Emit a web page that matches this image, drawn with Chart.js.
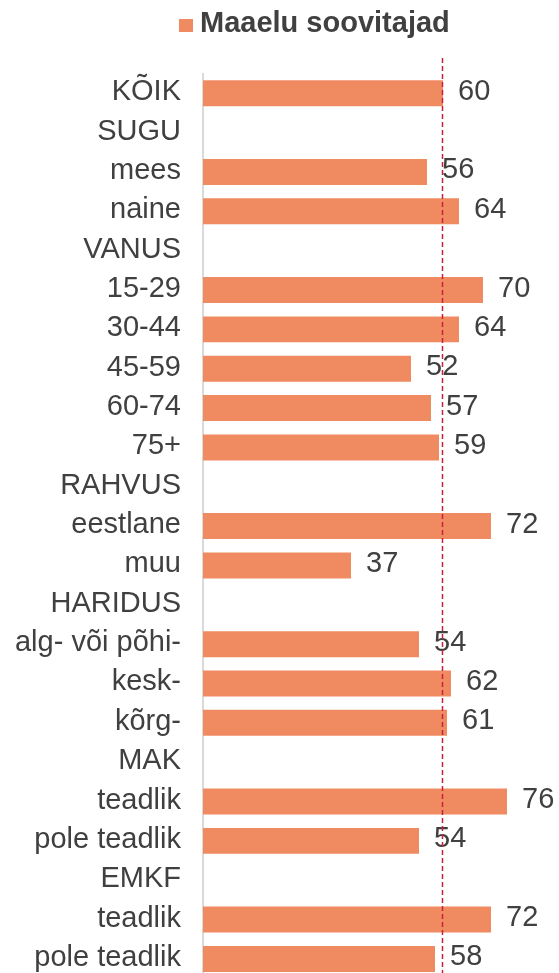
<!DOCTYPE html>
<html>
<head>
<meta charset="utf-8">
<script src="https://cdn.jsdelivr.net/npm/chart.js@4/dist/chart.umd.min.js"></script>
<style>
  html, body { margin: 0; padding: 0; background: #ffffff; overflow: hidden; }
  #wrap { width: 559px; height: 973px; overflow: hidden; }
</style>
</head>
<body>
<div id="wrap"><canvas id="c" width="559" height="1018"></canvas></div>
<script>
const categories = ["KÕIK", "SUGU", "mees", "naine", "VANUS", "15-29", "30-44", "45-59", "60-74", "75+",
  "RAHVUS", "eestlane", "muu", "HARIDUS", "alg- või põhi-", "kesk-", "kõrg-", "MAK", "teadlik",
  "pole teadlik", "EMKF", "teadlik", "pole teadlik"];
const seriesName = "Maaelu soovitajad";
const values = [60, null, 56, 64, null, 70, 64, 52, 57, 59, null, 72, 37, null, 54, 62, 61, null, 76, 54, null, 72, 58];
const referenceValue = 60;
const xMin = 0, xMax = 85;

const FONT = "'Liberation Sans', Arial, Helvetica, sans-serif";
const TEXT = "#404040";
const BAR = "#f08b61";

const valueLabels = {
  id: "valueLabels",
  afterDatasetsDraw(chart) {
    const ctx = chart.ctx;
    const meta = chart.getDatasetMeta(0);
    ctx.save();
    ctx.font = "29px " + FONT;
    ctx.fillStyle = TEXT;
    ctx.textAlign = "left";
    ctx.textBaseline = "middle";
    meta.data.forEach((el, i) => {
      const v = chart.data.datasets[0].data[i];
      if (v === null || v === undefined) return;
      ctx.fillText(String(v), el.x + 15, el.y - 1.5);
    });
    ctx.restore();
  }
};

const refLine = {
  id: "refLine",
  afterDatasetsDraw(chart) {
    const ctx = chart.ctx;
    const x = Math.round(chart.scales.x.getPixelForValue(referenceValue)) - 0.5;
    ctx.save();
    ctx.strokeStyle = "#c8203c";
    ctx.lineWidth = 1.5;
    ctx.setLineDash([5, 3]);
    ctx.beginPath();
    ctx.moveTo(x, 58);
    ctx.lineTo(x, chart.height);
    ctx.stroke();
    ctx.restore();
  }
};

const legendPlugin = {
  id: "customLegend",
  afterDraw(chart) {
    const ctx = chart.ctx;
    const ds = chart.data.datasets[0];
    ctx.save();
    ctx.fillStyle = ds.backgroundColor;
    ctx.fillRect(179, 19, 14, 13);
    ctx.font = "bold 29px " + FONT;
    ctx.fillStyle = TEXT;
    ctx.textAlign = "left";
    ctx.textBaseline = "alphabetic";
    ctx.fillText(ds.label, 200, 32);
    ctx.restore();
  }
};

new Chart(document.getElementById("c"), {
  type: "bar",
  data: {
    labels: categories,
    datasets: [{
      label: seriesName,
      data: values,
      backgroundColor: BAR,
      borderWidth: 0,
      categoryPercentage: 1.0,
      barPercentage: 0.66
    }]
  },
  options: {
    indexAxis: "y",
    responsive: false,
    animation: false,
    layout: { padding: { top: 73.6, bottom: 1, left: 0, right: 16 } },
    plugins: {
      legend: { display: false },
      tooltip: { enabled: false }
    },
    scales: {
      x: {
        display: false,
        min: xMin,
        max: xMax
      },
      y: {
        afterFit(scale) { scale.width = 203; },
        grid: { display: false, drawTicks: false },
        border: { display: true, color: "#d9d9d9", width: 2 },
        ticks: {
          autoSkip: false,
          padding: 22,
          labelOffset: -1,
          color: TEXT,
          font: { family: FONT, size: 29 }
        }
      }
    }
  },
  plugins: [valueLabels, refLine, legendPlugin]
});
</script>
</body>
</html>
